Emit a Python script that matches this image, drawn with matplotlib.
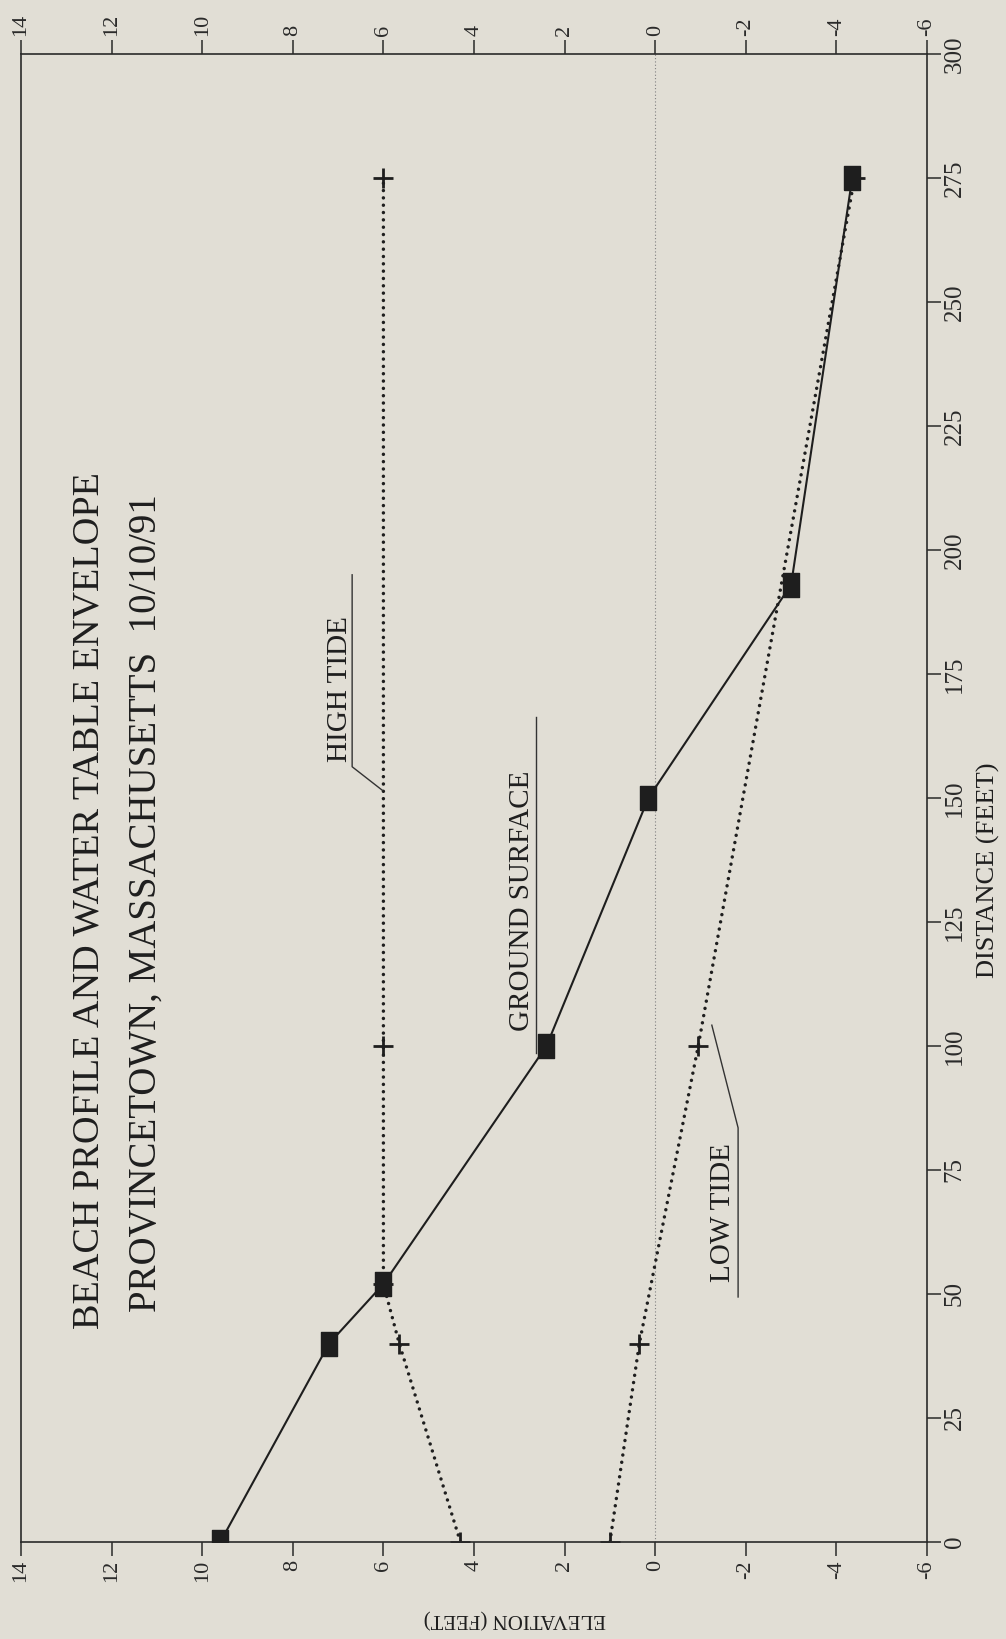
import matplotlib
matplotlib.use("Agg")
import matplotlib.pyplot as plt

# Beach profile and water table envelope, Provincetown MA, 10/10/91
distance_ground = [0, 40, 52, 100, 150, 193, 275]
elev_ground = [9.6, 7.2, 6.0, 2.4, 0.15, -3.0, -4.35]

distance_high = [0, 40, 52, 100, 275]
elev_high = [4.3, 5.65, 6.0, 6.0, 6.0]

distance_low = [0, 40, 100, 275]
elev_low = [1.0, 0.35, -0.95, -4.4]

elev_ticks = [14, 12, 10, 8, 6, 4, 2, 0, -2, -4, -6]
dist_ticks = [0, 25, 50, 75, 100, 125, 150, 175, 200, 225, 250, 275, 300]

bg = "#e1ded5"
ink = "#1e1e1e"
serif = ["Liberation Serif", "DejaVu Serif"]
plt.rcParams["font.family"] = serif

W, H = 1006, 1639
fig = plt.figure(figsize=(W / 100, H / 100), dpi=100, facecolor=bg)
ax = fig.add_axes([21 / W, 1 - 1542 / H, (927 - 21) / W, (1542 - 54) / H],
                  facecolor=bg)


def fx(px):
    return px / W


def fy(py):
    return 1 - py / H


# Elevation runs along the horizontal axis (high on the left), distance upward
ax.set_xlim(14, -6)
ax.set_ylim(0, 300)

ax.axvline(0, color="#808080", lw=0.8, ls=(0, (1, 2)), zorder=1)

# tall rectangular marker for the surveyed ground points
rect = [(-0.35, -0.5), (0.35, -0.5), (0.35, 0.5), (-0.35, 0.5), (-0.35, -0.5)]

dots = (0, (0.01, 2.1))
ax.plot(elev_high, distance_high, color=ink, lw=2.5, ls=dots,
        dash_capstyle="round", zorder=2)
ax.plot(elev_low, distance_low, color=ink, lw=2.5, ls=dots,
        dash_capstyle="round", zorder=2)
ax.plot(elev_high, distance_high, ls="none", color=ink, marker="+", ms=14,
        mew=2.0, zorder=2)
ax.plot(elev_low, distance_low, ls="none", color=ink, marker="+", ms=14,
        mew=2.0, zorder=2)
ax.plot(elev_ground, distance_ground, color=ink, lw=1.5, marker=rect,
        ms=17, zorder=3)

# Axis styling
for side in ("left", "right", "top", "bottom"):
    ax.spines[side].set_linewidth(1.2)
    ax.spines[side].set_color("#2a2a2a")

ax.set_xticks(elev_ticks)
ax.set_xticklabels([str(t) for t in elev_ticks])
ax.tick_params(axis="x", which="both", bottom=True, top=True, labelbottom=True,
               labeltop=True, direction="out", length=10, width=1.1,
               labelsize=16, pad=3, colors="#2a2a2a", labelrotation=90)

ax.yaxis.tick_right()
ax.set_yticks(dist_ticks)
ax.set_yticklabels([str(t) for t in dist_ticks])
ax.tick_params(axis="y", which="both", left=False, right=True, labelleft=False,
               labelright=True, direction="out", length=10, width=1.1,
               labelsize=18, pad=2, colors="#2a2a2a", labelrotation=90)
for lbl in ax.get_yticklabels():
    lbl.set_va("center")

# Axis titles
fig.text(fx(515), fy(1618), "ELEVATION (FEET)", rotation=180, ha="center",
         va="center", fontsize=15, color=ink)
fig.text(fx(988), fy(870), "DISTANCE (FEET)", rotation=90, ha="center",
         va="center", fontsize=19, color=ink)

# Chart heading
fig.text(fx(89), fy(901), "BEACH PROFILE AND WATER TABLE ENVELOPE",
         rotation=90, ha="center", va="center", fontsize=27.5, color=ink)
fig.text(fx(146), fy(903), "PROVINCETOWN, MASSACHUSETTS  10/10/91",
         rotation=90, ha="center", va="center", fontsize=28, color=ink)

# Curve labels, each underlined with a leader to its curve
fig.text(fx(340), fy(689), "HIGH TIDE", rotation=90, ha="center",
         va="center", fontsize=21, color=ink)
ax.plot([6.69, 6.69, 6.03], [195, 156.3, 151.6], color="#333333", lw=1.0)

fig.text(fx(522), fy(901), "GROUND SURFACE", rotation=90, ha="center",
         va="center", fontsize=21, color=ink)
ax.plot([2.63, 2.63], [166.3, 98.5], color="#333333", lw=1.0)

fig.text(fx(723), fy(1213), "LOW TIDE", rotation=90, ha="center",
         va="center", fontsize=21, color=ink)
ax.plot([-1.83, -1.83, -1.25], [49.4, 83.5, 104.2], color="#333333", lw=1.0)

fig.savefig("out.png", dpi=100, facecolor=bg)
